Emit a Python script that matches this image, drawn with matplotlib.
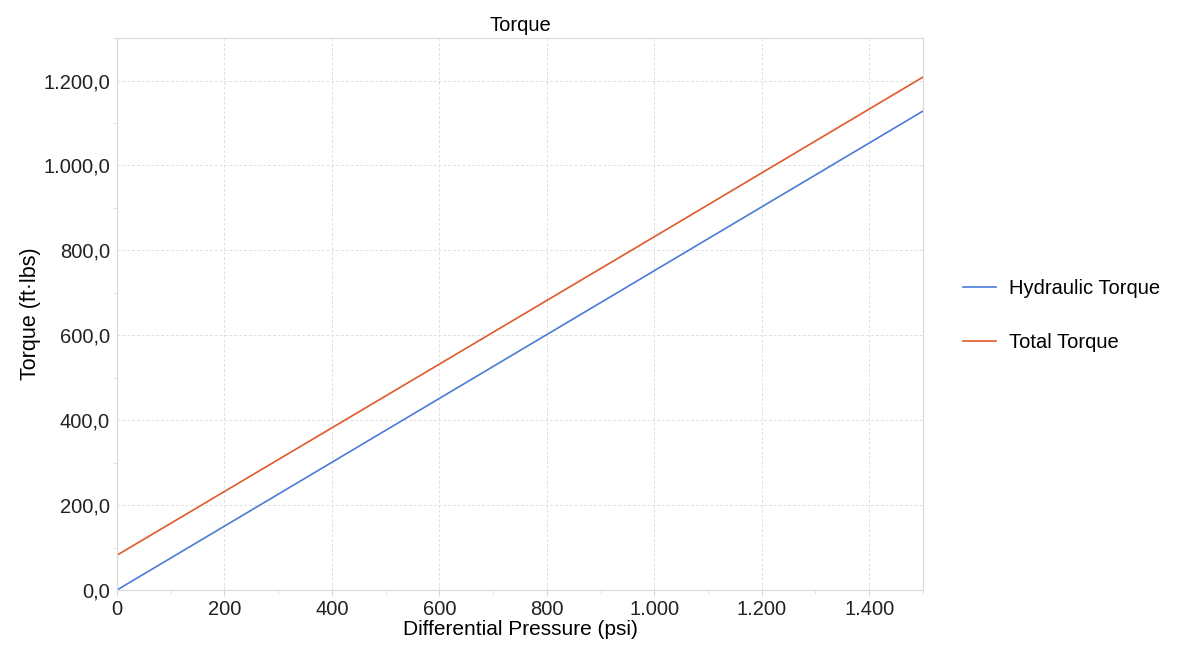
import matplotlib.pyplot as plt
from matplotlib.ticker import FuncFormatter, MultipleLocator

plt.rcParams['font.family'] = ['Liberation Sans', 'DejaVu Sans']

pressure = [0, 500, 1000, 1500]
hydraulic = [0, 376, 752, 1128]
total = [82, 457, 832, 1208]


def thousands(v, decimals):
    s = f"{v:,.{decimals}f}"
    return s.replace(",", "X").replace(".", ",").replace("X", ".")


fig = plt.figure(figsize=(11.78, 6.56), dpi=100)
ax = fig.add_axes([0.0993, 0.1006, 0.6842, 0.8414])

ax.plot(pressure, hydraulic, color='#4a7bd6', lw=1.2, label='Hydraulic Torque')
ax.plot(pressure, total, color='#e0592a', lw=1.2, label='Total Torque')

ax.set_xlim(0, 1500)
ax.set_ylim(0, 1300)
ax.xaxis.set_major_locator(MultipleLocator(200))
ax.xaxis.set_minor_locator(MultipleLocator(100))
ax.yaxis.set_major_locator(MultipleLocator(200))
ax.yaxis.set_minor_locator(MultipleLocator(100))
ax.xaxis.set_major_formatter(FuncFormatter(lambda v, p: thousands(v, 0)))
ax.yaxis.set_major_formatter(FuncFormatter(lambda v, p: thousands(v, 1)))

ax.grid(True, which='major', color='#e0e0e0', linestyle=(0, (3, 2)), lw=0.7)
for sp in ax.spines.values():
    sp.set_color('#d9d9d9')
ax.tick_params(which='major', length=0, labelsize=14.5, colors='#222222', pad=5)
ax.tick_params(which='minor', length=3, color='#d9d9d9')
ax.tick_params(axis='x', which='major', length=4, color='#d9d9d9', pad=3)

ax.set_title('Torque', fontsize=14.5, pad=5)
ax.set_xlabel('Differential Pressure (psi)', fontsize=15, labelpad=1)
ax.set_ylabel('Torque (ft·lbs)', fontsize=15.5, labelpad=2)

ax.legend(loc='center left', bbox_to_anchor=(1.027, 0.497), frameon=False,
          fontsize=14.5, handlelength=1.65, labelspacing=1.75, handletextpad=0.65)

fig.savefig('out.png', dpi=100)
